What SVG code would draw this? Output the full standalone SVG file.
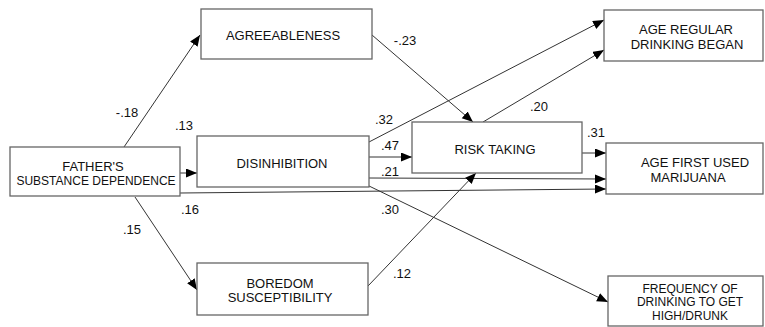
<svg xmlns="http://www.w3.org/2000/svg" width="765" height="327" viewBox="0 0 765 327">
<style>
.box{fill:#fff;stroke:#666;stroke-width:1.3}
.t{font-family:"Liberation Sans",Arial,sans-serif;font-size:13px;fill:#111;text-anchor:middle}
.l{font-family:"Liberation Sans",Arial,sans-serif;font-size:13px;fill:#111;text-anchor:middle}
.c{fill:none;stroke:#333;stroke-width:1}
</style>
<defs>
<marker id="ah" markerUnits="userSpaceOnUse" markerWidth="12" markerHeight="10" refX="11" refY="4.5" orient="auto">
<path d="M0,0 L11,4.5 L0,9 Z" fill="#000"/>
</marker>
</defs>
<rect width="765" height="327" fill="#fff"/>
<g id="connectors">
<line class="c" x1="124" y1="147" x2="200" y2="35" marker-end="url(#ah)"/>
<line class="c" x1="180" y1="173" x2="197" y2="173" marker-end="url(#ah)"/>
<line class="c" x1="180" y1="193" x2="606" y2="189" marker-end="url(#ah)"/>
<line class="c" x1="135" y1="197" x2="197" y2="290" marker-end="url(#ah)"/>
<line class="c" x1="372" y1="35" x2="473" y2="122" marker-end="url(#ah)"/>
<line class="c" x1="369" y1="142" x2="604" y2="20" marker-end="url(#ah)"/>
<line class="c" x1="369" y1="157" x2="412" y2="157" marker-end="url(#ah)"/>
<line class="c" x1="369" y1="178" x2="606" y2="179" marker-end="url(#ah)"/>
<line class="c" x1="367" y1="185" x2="608" y2="302" marker-end="url(#ah)"/>
<line class="c" x1="483" y1="122" x2="604" y2="50" marker-end="url(#ah)"/>
<line class="c" x1="582" y1="153" x2="606" y2="153" marker-end="url(#ah)"/>
<line class="c" x1="368" y1="286" x2="476" y2="173" marker-end="url(#ah)"/>
</g>
<g id="labels">
<text class="l" x="127" y="117">-.18</text>
<text class="l" x="184" y="130">.13</text>
<text class="l" x="190" y="214">.16</text>
<text class="l" x="132" y="234">.15</text>
<text class="l" x="405" y="45">-.23</text>
<text class="l" x="384" y="124">.32</text>
<text class="l" x="390" y="150">.47</text>
<text class="l" x="390" y="176">.21</text>
<text class="l" x="390" y="214">.30</text>
<text class="l" x="402" y="278">.12</text>
<text class="l" x="539" y="111">.20</text>
<text class="l" x="596" y="137">.31</text>
</g>
<g id="father">
<rect class="box" x="10" y="147" width="170" height="49"/>
<text class="t"><tspan x="93" y="171">FATHER'S</tspan><tspan x="96" y="185" style="font-size:12px">SUBSTANCE DEPENDENCE</tspan></text>
</g>
<g id="agreeableness">
<rect class="box" x="201" y="9" width="171" height="50"/>
<text class="t" x="283" y="40">AGREEABLENESS</text>
</g>
<g id="disinhibition">
<rect class="box" x="197" y="136" width="172" height="51"/>
<text class="t" x="282" y="168">DISINHIBITION</text>
</g>
<g id="boredom">
<rect class="box" x="197" y="263" width="171" height="52"/>
<text class="t"><tspan x="280" y="287.75">BOREDOM</tspan><tspan x="280" y="302.25">SUSCEPTIBILITY</tspan></text>
</g>
<g id="risk">
<rect class="box" x="412" y="122" width="170" height="51"/>
<text class="t" x="495" y="154">RISK TAKING</text>
</g>
<g id="agereg">
<rect class="box" x="604" y="10" width="159" height="51"/>
<text class="t"><tspan x="686" y="34.25">AGE REGULAR</tspan><tspan x="687" y="48.75">DRINKING BEGAN</tspan></text>
</g>
<g id="agemar">
<rect class="box" x="606" y="143" width="157" height="51"/>
<text class="t"><tspan x="695" y="167.25">AGE FIRST USED</tspan><tspan x="688" y="181.75">MARIJUANA</tspan></text>
</g>
<g id="freq">
<rect class="box" x="608" y="276" width="155" height="50"/>
<text class="t" style="font-size:12px"><tspan x="690" y="292.5">FREQUENCY OF</tspan><tspan x="690" y="306">DRINKING TO GET</tspan><tspan x="690" y="319.5">HIGH/DRUNK</tspan></text>
</g>
</svg>
